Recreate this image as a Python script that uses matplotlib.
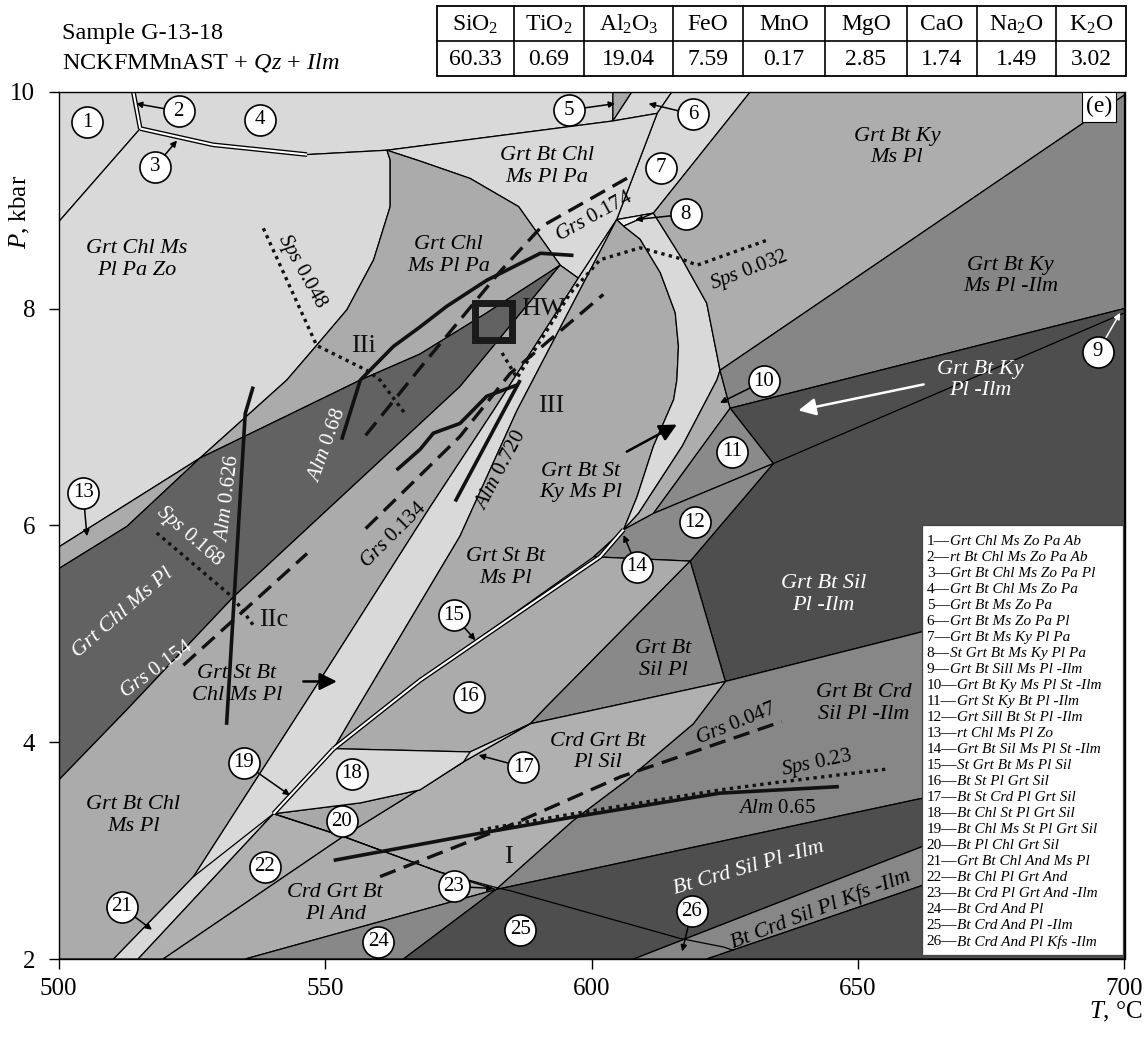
import matplotlib
matplotlib.use("Agg")
import matplotlib.pyplot as plt
from matplotlib.patches import Polygon, Rectangle

plt.rcParams['font.family'] = ['Liberation Serif', 'DejaVu Serif']
plt.rcParams['mathtext.fontset'] = 'custom'
plt.rcParams['mathtext.rm'] = 'Liberation Serif'
plt.rcParams['mathtext.it'] = 'Liberation Serif:italic'
plt.rcParams['mathtext.bf'] = 'Liberation Serif:bold'

LIGHT, MED, MID, DARK, DGRAY = '#d9d9d9', '#ababab', '#888888', '#4e4e4e', '#626262'

# ---------------- field polygons (T in °C, P in kbar) ----------------
f1 = [(500, 10), (514.0, 10), (515.3, 9.66), (500, 8.80)]
f4 = [(514.0, 10), (604.0, 10), (604.0, 9.73), (561.6, 9.46), (546.6, 9.42), (529.0, 9.51), (515.3, 9.66)]
f5 = [(604.0, 10), (607.6, 10), (604.0, 9.73)]
f6 = [(607.6, 10), (615.1, 10), (612.3, 9.80), (604.0, 9.73)]
f7 = [(615.1, 10), (629.8, 10), (611.6, 8.88), (604.7, 8.82), (612.3, 9.80)]
f8 = [(604.7, 8.82), (611.6, 8.88), (606.0, 8.76)]
grt_chl_ms_pl_pa_zo = [(500, 8.80), (515.3, 9.66), (529.0, 9.51), (546.6, 9.42), (561.6, 9.46), (562.2, 9.37),
                       (562.2, 8.94), (559.1, 8.45), (554.1, 7.99), (548.4, 7.66), (542.8, 7.34), (526.5, 6.62),
                       (500, 5.80)]
grt_bt_chl_ms_pl_pa = [(561.6, 9.46), (604.0, 9.73), (612.3, 9.80), (604.7, 8.82), (597.5, 8.28), (594.1, 8.40),
                       (586.3, 8.94), (577.2, 9.20), (567.8, 9.36)]
grt_chl_ms_pl_pa = [(526.5, 6.62), (542.8, 7.34), (548.4, 7.66), (554.1, 7.99), (559.1, 8.45), (562.2, 8.94),
                    (562.2, 9.37), (561.6, 9.46), (567.8, 9.36), (577.2, 9.20), (586.3, 8.94), (594.1, 8.40),
                    (580.0, 7.95), (567.8, 7.58), (556.6, 7.34)]
f13 = [(500, 5.80), (526.5, 6.62), (512.8, 5.99), (500, 5.60)]
grt_chl_ms_pl = [(500, 5.60), (512.8, 5.99), (526.5, 6.62), (556.6, 7.34), (567.8, 7.58), (580.0, 7.95),
                 (594.1, 8.40), (575.3, 7.28), (532.8, 5.34), (512.8, 4.30), (500, 3.65)]
grt_st_bt_chl_ms_pl = [(500, 2.0), (510.3, 2.0), (525.3, 2.76), (549.0, 4.57), (569.7, 6.17), (581.6, 7.06),
                       (597.5, 8.28), (594.1, 8.40), (575.3, 7.28), (532.8, 5.34), (512.8, 4.30), (500, 3.65)]
chl_strip = [(510.3, 2.0), (525.3, 2.76), (549.0, 4.57), (569.7, 6.17), (581.6, 7.06), (597.5, 8.28),
             (604.7, 8.82), (586.0, 7.06), (575.3, 5.90), (555.9, 4.30), (551.6, 3.94), (540.3, 3.34), (514.9, 2.0)]
grt_st_bt_ms_pl = [(551.6, 3.94), (555.9, 4.30), (575.3, 5.90), (586.0, 7.06), (604.7, 8.82), (606.0, 8.76),
                   (609.1, 8.64), (612.9, 8.33), (615.7, 7.96), (616.3, 7.65), (616.0, 7.34), (615.4, 7.16),
                   (611.6, 6.73), (608.5, 6.26), (606.0, 5.96), (601.6, 5.71), (567.8, 4.57)]
ky_strip = [(606.0, 8.76), (611.6, 8.88), (616.7, 8.48), (621.6, 8.05), (624.1, 7.43), (623.5, 7.34),
            (617.0, 6.73), (608.8, 6.11), (606.0, 5.96), (608.5, 6.26), (611.6, 6.73), (615.4, 7.16),
            (616.0, 7.34), (616.3, 7.65), (615.7, 7.96), (612.9, 8.33), (609.1, 8.64)]
grt_bt_ky_ms_pl = [(629.8, 10), (700, 10), (700, 9.97), (624.1, 7.43), (621.6, 8.05), (616.7, 8.48), (611.6, 8.88)]
ky_band = [(624.1, 7.43), (626.0, 7.08), (611.6, 6.11), (606.0, 5.96), (608.8, 6.11), (617.0, 6.73), (623.5, 7.34)]
grt_bt_ky_ms_pl_ilm = [(624.1, 7.43), (700, 9.97), (700, 8.00), (626.0, 7.08)]
grt_bt_ky_pl_ilm = [(626.0, 7.08), (700, 8.00), (700, 5.49), (625.1, 4.56), (618.5, 5.67), (634.1, 6.57)]
f11 = [(626.0, 7.08), (634.1, 6.57), (611.6, 6.11)]
f12 = [(600.4, 5.71), (606.0, 5.96), (611.6, 6.11), (634.1, 6.57), (618.5, 5.67)]
f16 = [(551.6, 3.94), (577.2, 3.91), (588.5, 4.17), (591.0, 4.30), (618.5, 5.67), (600.4, 5.71), (567.8, 4.57)]
grt_bt_sil_pl = [(588.5, 4.17), (591.0, 4.30), (618.5, 5.67), (625.1, 4.56)]
grt_bt_crd_sil_pl_ilm = [(625.1, 4.56), (700, 5.49), (700, 3.88), (658.0, 3.44), (582.0, 2.64), (596.6, 3.28),
                         (606.6, 3.65), (619.1, 4.17)]
crd_grt_bt_pl_sil = [(553.4, 3.13), (576.0, 3.82), (588.5, 4.17), (625.1, 4.56), (619.1, 4.17), (606.6, 3.65),
                     (596.6, 3.28), (582.0, 2.64), (571.6, 2.80)]
f20 = [(540.3, 3.34), (553.4, 3.13), (576.0, 3.82), (567.8, 3.56), (556.6, 3.44)]
f18 = [(540.3, 3.34), (556.6, 3.44), (567.8, 3.56), (576.0, 3.82), (588.5, 4.17), (577.2, 3.91), (551.6, 3.94)]
f22 = [(514.9, 2.0), (519.6, 2.0), (553.4, 3.13), (540.3, 3.34)]
crd_grt_bt_pl_and = [(519.6, 2.0), (535.0, 2.0), (582.0, 2.64), (571.6, 2.80), (553.4, 3.13)]
f24 = [(535.0, 2.0), (564.7, 2.0), (582.0, 2.64)]
bt_crd_sil_pl_ilm = [(564.7, 2.0), (582.0, 2.64), (658.0, 3.44), (700, 3.88), (700, 3.76), (658.0, 2.96),
                     (607.9, 2.0)]
kfs_band = [(607.9, 2.0), (621.6, 2.0), (658.0, 2.61), (700, 3.32), (700, 3.76), (658.0, 2.96)]
kfs_low = [(621.6, 2.0), (700, 2.0), (700, 3.32), (658.0, 2.61)]
f14 = [(600.4, 5.71), (601.6, 5.71), (606.0, 5.96)]

fields = [
    (f1, LIGHT), (f4, LIGHT), (f5, '#a9a9a9'), (f6, LIGHT), (f7, LIGHT), (f8, '#efefef'),
    (grt_chl_ms_pl_pa_zo, LIGHT), (grt_bt_chl_ms_pl_pa, LIGHT), (grt_chl_ms_pl_pa, MED), (f13, MED),
    (grt_chl_ms_pl, DGRAY), (grt_st_bt_chl_ms_pl, MED), (chl_strip, LIGHT), (grt_st_bt_ms_pl, MED),
    (ky_strip, LIGHT), (grt_bt_ky_ms_pl, '#adadad'), (ky_band, '#adadad'), (grt_bt_ky_ms_pl_ilm, '#868686'),
    (grt_bt_ky_pl_ilm, DARK), (f11, '#8a8a8a'), (f12, '#8a8a8a'), (f14, '#8a8a8a'), (f16, MED),
    (grt_bt_sil_pl, '#898989'), (grt_bt_crd_sil_pl_ilm, '#878787'), (crd_grt_bt_pl_sil, '#b0b0b0'),
    (f20, '#a8a8a8'), (f18, LIGHT), (f22, '#b0b0b0'), (crd_grt_bt_pl_and, '#acacac'), (f24, '#888888'),
    (bt_crd_sil_pl_ilm, DARK), (kfs_band, '#878787'), (kfs_low, DARK),
]

# extra phase boundaries drawn as plain lines
and_sil = [(540.3, 3.34), (553.4, 3.13), (571.6, 2.80), (582.0, 2.66), (584.7, 2.63), (616.6, 2.19),
           (624.8, 2.11), (626.6, 2.08)]
ky_sil = [(634.1, 6.57), (700, 7.96)]
line_21 = [(525.3, 2.76), (540.3, 3.34)]
line_17 = [(576.0, 3.82), (577.2, 3.91)]
# narrow fields shown as double lines
narrow_2 = [(514.0, 10), (515.3, 9.66)]
narrow_3 = [(515.3, 9.66), (529.0, 9.51), (546.6, 9.42)]
narrow_15 = [(551.6, 3.94), (567.8, 4.57), (601.6, 5.71), (606.0, 5.96)]
narrow_19 = [(540.3, 3.34), (551.6, 3.94)]

# ---------------- isopleths ----------------
sps_048 = [(538.4, 8.74), (548.4, 7.66), (557.8, 7.43), (560.3, 7.34), (565.0, 7.03)]
sps_032 = [(583.2, 7.59), (586.0, 7.36), (596.0, 8.14), (601.6, 8.45), (609.1, 8.56), (616.7, 8.46),
           (619.8, 8.40), (632.9, 8.63)]
sps_168 = [(518.4, 5.93), (532.8, 5.33), (536.5, 5.08)]
sps_023 = [(579.1, 3.19), (596.6, 3.34), (624.1, 3.56), (635.0, 3.63), (655.1, 3.75)]
grs_174 = [(557.6, 6.83), (567.8, 7.45), (582.8, 8.34), (590.7, 8.76), (607.3, 9.22)]
grs_154 = [(523.4, 4.71), (546.6, 5.74)]
grs_134 = [(557.6, 5.97), (575.3, 6.82), (584.7, 7.40), (602.2, 8.13)]
grs_047 = [(560.3, 2.76), (584.1, 3.22), (605.4, 3.68), (635.7, 4.19)]
alm_068 = [(553.1, 6.79), (556.6, 7.34), (562.8, 7.65), (567.8, 7.83), (572.8, 8.02), (580.3, 8.26),
           (590.4, 8.51), (596.6, 8.49)]
alm_0626 = [(536.5, 7.28), (535.0, 7.03), (531.5, 4.16)]
alm_0720 = [(574.4, 6.22), (586.6, 7.34)]
alm_path = [(563.4, 6.51), (567.8, 6.70), (570.3, 6.85), (575.3, 6.94), (580.3, 7.19), (586.3, 7.30)]
alm_065 = [(551.6, 2.91), (579.1, 3.16), (596.6, 3.31), (624.1, 3.53), (646.4, 3.59)]

# ---------------- labels ----------------
field_labels = [
    ("Grt Chl Ms\nPl Pa Zo", 514.6, 8.45, 0, 'k'), ("Grt Chl\nMs Pl Pa", 573.1, 8.49, 0, 'k'),
    ("Grt Bt Chl\nMs Pl Pa", 591.6, 9.31, 0, 'k'), ("Grt Bt Ky\nMs Pl", 657.3, 9.49, 0, 'k'),
    ("Grt Bt Ky\nMs Pl -Ilm", 678.6, 8.30, 0, 'k'), ("Grt Bt Ky\nPl -Ilm", 673.0, 7.34, 0, 'w'),
    ("Grt Bt St\nKy Ms Pl", 597.9, 6.40, 0, 'k'), ("Grt St Bt\nMs Pl", 583.8, 5.61, 0, 'k'),
    ("Grt Bt\nSil Pl", 613.5, 4.76, 0, 'k'), ("Grt Bt Sil\nPl -Ilm", 643.5, 5.36, 0, 'w'),
    ("Grt Bt Crd\nSil Pl -Ilm", 651.0, 4.36, 0, 'k'), ("Crd Grt Bt\nPl Sil", 601.1, 3.91, 0, 'k'),
    ("Crd Grt Bt\nPl And", 551.9, 2.51, 0, 'k'), ("Grt Bt Chl\nMs Pl", 514.0, 3.32, 0, 'k'),
    ("Grt St Bt\nChl Ms Pl", 533.4, 4.53, 0, 'k'), ("Grt Chl Ms Pl", 512.1, 5.19, 41, 'w'),
    ("Bt Crd Sil Pl -Ilm", 629.5, 2.84, 16, 'w'), ("Bt Crd Sil Pl Kfs -Ilm", 643.0, 2.46, 21, 'k'),
]
iso_labels = [
    ("Sps", "0.048", 545.6, 8.34, -61, 'k'), ("Sps", "0.032", 629.6, 8.35, 21, 'k'),
    ("Grs", "0.174", 600.4, 8.85, 29, 'k'), ("Alm", "0.68", 550.3, 6.74, 70, 'w'),
    ("Alm", "0.626", 531.8, 6.25, 83, 'w'), ("Sps", "0.168", 524.6, 5.90, -41, 'w'),
    ("Grs", "0.154", 518.4, 4.67, 36, 'w'), ("Grs", "0.134", 562.8, 5.91, 45, 'k'),
    ("Alm", "0.720", 582.9, 6.51, 62, 'k'), ("Grs", "0.047", 627.0, 4.17, 22, 'k'),
    ("Sps", "0.23", 642.3, 3.81, 12, 'k'), ("Alm", "0.65", 634.8, 3.39, 0, 'k'),
]
stage_labels = [("IIi", 557.2, 7.65), ("IIc", 540.3, 5.13), ("III", 592.5, 7.10), ("I", 584.4, 2.94),
                ("HW", 591.0, 8.00)]
# numbered fields: label, circle centre, arrow tip (or None), arrow colour
numbers = [
    ("1", 505.3, 9.72, None, 'k'), ("2", 522.5, 9.82, (514.5, 9.89), 'k'), ("3", 518.1, 9.31, (522.2, 9.55), 'k'),
    ("4", 537.8, 9.74, None, 'k'), ("5", 595.7, 9.83, (604.4, 9.89), 'k'), ("6", 619.1, 9.79, (610.7, 9.89), 'k'),
    ("7", 613.0, 9.30, None, 'k'), ("8", 617.7, 8.87, (608.2, 8.82), 'k'), ("9", 695.0, 7.60, (699.2, 7.96), 'w'),
    ("10", 632.3, 7.33, (624.1, 7.13), 'k'), ("11", 626.3, 6.68, None, 'k'), ("12", 619.4, 6.03, None, 'k'),
    ("13", 504.6, 6.30, (505.3, 5.90), 'k'), ("14", 608.5, 5.62, (606.0, 5.91), 'k'),
    ("15", 574.1, 5.17, (578.2, 4.94), 'k'), ("16", 576.9, 4.42, None, 'k'), ("17", 587.2, 3.77, (578.8, 3.88), 'k'),
    ("18", 555.0, 3.71, None, 'k'), ("19", 534.7, 3.81, (543.4, 3.51), 'k'), ("20", 553.1, 3.27, None, 'k'),
    ("21", 511.8, 2.48, (517.5, 2.27), 'k'), ("22", 538.7, 2.85, None, 'k'), ("23", 574.1, 2.67, (581.6, 2.65), 'k'),
    ("24", 560.0, 2.16, None, 'k'), ("25", 586.6, 2.27, None, 'k'), ("26", 618.8, 2.44, (617.0, 2.07), 'k'),
]
big_arrows = [((606.6, 6.68), (616.0, 6.93), 'k'), ((545.9, 4.56), (552.2, 4.56), 'k'),
              ((662.3, 7.30), (638.8, 7.06), 'w')]
hw_box = (578.2, 7.71, 6.9, 0.34)

legend_entries = [
    ("1", "Grt Chl Ms Zo Pa Ab"), ("2", "rt Bt Chl Ms Zo Pa Ab"), ("3", "Grt Bt Chl Ms Zo Pa Pl"),
    ("4", "Grt Bt Chl Ms Zo Pa"), ("5", "Grt Bt Ms Zo Pa"), ("6", "Grt Bt Ms Zo Pa Pl"),
    ("7", "Grt Bt Ms Ky Pl Pa"), ("8", "St Grt Bt Ms Ky Pl Pa"), ("9", "Grt Bt Sill Ms Pl -Ilm"),
    ("10", "Grt Bt Ky Ms Pl St -Ilm"), ("11", "Grt St Ky Bt Pl -Ilm"), ("12", "Grt Sill Bt St Pl -Ilm"),
    ("13", "rt Chl Ms Pl Zo"), ("14", "Grt Bt Sil Ms Pl St -Ilm"), ("15", "St Grt Bt Ms Pl Sil"),
    ("16", "Bt St Pl Grt Sil"), ("17", "Bt St Crd Pl Grt Sil"), ("18", "Bt Chl St Pl Grt Sil"),
    ("19", "Bt Chl Ms St Pl Grt Sil"), ("20", "Bt Pl Chl Grt Sil"), ("21", "Grt Bt Chl And Ms Pl"),
    ("22", "Bt Chl Pl Grt And"), ("23", "Bt Crd Pl Grt And -Ilm"), ("24", "Bt Crd And Pl"),
    ("25", "Bt Crd And Pl -Ilm"), ("26", "Bt Crd And Pl Kfs -Ilm"),
]
oxides = [r"SiO$_2$", r"TiO$_2$", r"Al$_2$O$_3$", "FeO", "MnO", "MgO", "CaO", r"Na$_2$O", r"K$_2$O"]
wt_pct = ["60.33", "0.69", "19.04", "7.59", "0.17", "2.85", "1.74", "1.49", "3.02"]

# ---------------- figure ----------------
W, H = 1146, 1038
fig = plt.figure(figsize=(W / 100, H / 100), dpi=100)
ax = fig.add_axes([58.7 / W, 1 - 959 / H, (1124.5 - 58.7) / W, (959 - 91.7) / H])
ax.set_xlim(500, 700)
ax.set_ylim(2, 10)


def xy(pts):
    return [p[0] for p in pts], [p[1] for p in pts]


for verts, col in fields:
    ax.add_patch(Polygon(verts, closed=True, facecolor=col, edgecolor='k', lw=0.9, zorder=1))

for pts in (and_sil, ky_sil, line_21, line_17):
    ax.plot(*xy(pts), color='k', lw=0.9, zorder=2)
for pts in (narrow_2, narrow_3, narrow_15, narrow_19):
    ax.plot(*xy(pts), color='k', lw=3.4, zorder=2, solid_capstyle='butt')
    ax.plot(*xy(pts), color='white', lw=1.5, zorder=2.1, solid_capstyle='butt')

for pts in (sps_048, sps_032, sps_168, sps_023):
    ax.plot(*xy(pts), color='#111111', lw=2.4, ls=(0, (1, 1.3)), zorder=3)
for pts in (grs_174, grs_154, grs_134, grs_047):
    ax.plot(*xy(pts), color='#111111', lw=2.4, ls=(0, (5, 2.6)), zorder=3)
for pts in (alm_068, alm_0626, alm_0720, alm_path, alm_065):
    ax.plot(*xy(pts), color='#111111', lw=2.6, zorder=3, solid_capstyle='butt')

ax.add_patch(Rectangle(hw_box[:2], hw_box[2], hw_box[3], facecolor='none', edgecolor='#1a1a1a', lw=5, zorder=4))

for txt, t, p, rot, col in field_labels:
    ax.text(t, p, txt, ha='center', va='center', ma='center', fontsize=16, style='italic', color=col,
            rotation=rot, rotation_mode='anchor', zorder=6)
for name, val, t, p, rot, col in iso_labels:
    ax.text(t, p, r"$\mathit{%s}$ %s" % (name, val), ha='center', va='center', fontsize=15, color=col,
            rotation=rot, rotation_mode='anchor', zorder=6)
for txt, t, p in stage_labels:
    ax.text(t, p, txt, ha='center', va='center', fontsize=19, color='#111111', zorder=6)

for (x0, y0), (x1, y1), col in big_arrows:
    ax.annotate('', xy=(x1, y1), xytext=(x0, y0),
                arrowprops=dict(arrowstyle='-|>', color=col, lw=1.8, mutation_scale=26, shrinkA=0, shrinkB=0),
                zorder=6)

for lab, t, p, tip, acol in numbers:
    if tip is not None:
        ax.annotate('', xy=tip, xytext=(t, p),
                    arrowprops=dict(arrowstyle='-|>', color=acol, lw=1.1, mutation_scale=9,
                                    shrinkA=11, shrinkB=0), zorder=7)
    ax.scatter([t], [p], s=500, facecolor='white', edgecolor='k', lw=1.2, zorder=8)
    ax.text(t, p, lab, ha='center', va='center', fontsize=15, zorder=9)

# (e) tag
ax.add_patch(Rectangle((692.1, 9.72), 6.3, 0.28, facecolor='white', edgecolor='k', lw=0.8, zorder=8))
ax.text(695.25, 9.86, "(e)", ha='center', va='center', fontsize=17, zorder=9)

ax.set_xticks([500, 550, 600, 650, 700])
ax.set_yticks([2, 4, 6, 8, 10])
ax.tick_params(direction='out', length=7, width=1, labelsize=18)
ax.tick_params(axis='x', pad=7)
ax.tick_params(axis='y', pad=10)
for s in ax.spines.values():
    s.set_linewidth(1.0)

# ---------------- overlay in pixel coordinates ----------------
pax = fig.add_axes([0, 0, 1, 1])
pax.set_xlim(0, W)
pax.set_ylim(H, 0)
pax.axis('off')
pax.set_zorder(5)

pax.text(20, 212, r"$\mathit{P}$, kbar", rotation=90, ha='center', va='center', fontsize=18)
pax.text(1143, 1012, r"$\mathit{T}$, °C", ha='right', va='center', fontsize=18)
pax.text(62, 33, "Sample G-13-18", ha='left', va='center', fontsize=17.5)
pax.text(62, 63, r"NCKFMMnAST + $\mathit{Qz}$ + $\mathit{Ilm}$", ha='left', va='center', fontsize=17.5)

col_w = [77, 70, 89, 70, 82, 82, 70, 79, 70]
x_left, x_right, y_top, y_mid, y_bot = 437, 1126, 6, 41, 76
scale = (x_right - x_left) / sum(col_w)
edges = [x_left]
for w in col_w:
    edges.append(edges[-1] + w * scale)
pax.add_patch(Rectangle((x_left, y_top), x_right - x_left, y_bot - y_top, facecolor='white',
                        edgecolor='k', lw=1.3))
pax.plot([x_left, x_right], [y_mid, y_mid], color='k', lw=1.2)
for e in edges[1:-1]:
    pax.plot([e, e], [y_top, y_bot], color='k', lw=1.2)
for i in range(len(oxides)):
    cx = (edges[i] + edges[i + 1]) / 2
    pax.text(cx, (y_top + y_mid) / 2 + 1, oxides[i], ha='center', va='center', fontsize=17)
    pax.text(cx, (y_mid + y_bot) / 2 + 1, wt_pct[i], ha='center', va='center', fontsize=17)

# legend of numbered fields
pax.add_patch(Rectangle((921.7, 525), 201, 430, facecolor='white', edgecolor='#444444', lw=0.9))
renderer = fig.canvas.get_renderer()
for i, (num, names) in enumerate(legend_entries):
    y = 541.7 + 16.0 * i
    t1 = pax.text(926.7, y, num + "—", ha='left', va='center', fontsize=11)
    w = t1.get_window_extent(renderer=renderer).width
    pax.text(926.7 + w, y, names, ha='left', va='center', fontsize=11, style='italic')

fig.savefig("out.png", dpi=100)
